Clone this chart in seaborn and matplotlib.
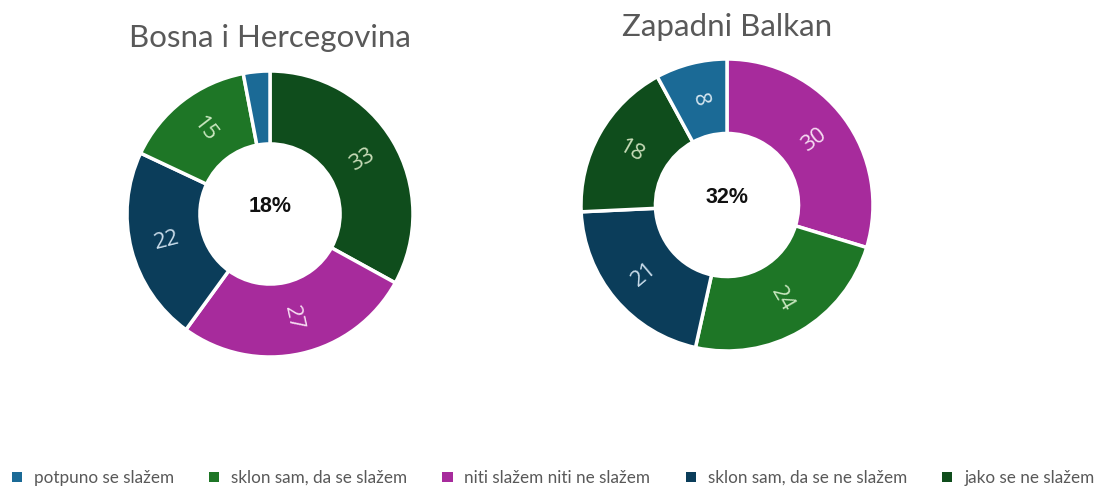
import numpy as np
import matplotlib.pyplot as plt
import seaborn as sns
from matplotlib.patches import Patch

# data
categories = ["potpuno se slažem", "sklon sam, da se slažem", "niti slažem niti ne slažem",
              "sklon sam, da se ne slažem", "jako se ne slažem"]
colors = ["#1b6a96", "#1e7626", "#a72b9c", "#0b3d5a", "#0f4d1c"]
label_colors = ["#d6e6f0", "#c9e6bf", "#f6dcf2", "#c9dcea", "#c8dcb8"]

bih_order = [4, 2, 3, 1, 0]          # clockwise from top
bih_values = [33, 27, 22, 15, 3]
bih_center = "18%"

zb_order = [2, 1, 3, 4, 0]
zb_values = [30, 24, 21, 18, 8]
zb_center = "32%"

titles = ["Bosna i Hercegovina", "Zapadni Balkan"]

sns.set_theme(style="white")
plt.rcParams['font.family'] = ['Lato', 'DejaVu Sans']

W, H = 1106, 488
fig = plt.figure(figsize=(W / 100, H / 100), dpi=100)


def donut(cx, cy, r, order, values, center, title, ty):
    ax = fig.add_axes([(cx - r) / W, (H - cy - r) / H, 2 * r / W, 2 * r / H])
    cols = [colors[i] for i in order]
    wedges, _ = ax.pie(values, colors=cols, startangle=90, counterclock=False,
                       radius=1, wedgeprops=dict(width=0.51, edgecolor="white", linewidth=2.5))
    for w, v, i in zip(wedges, values, order):
        if v < 5:
            continue
        ang = (w.theta1 + w.theta2) / 2
        rad = np.deg2rad(ang)
        rot = ang % 180
        if rot > 90:
            rot -= 180
        ax.text(0.745 * np.cos(rad), 0.745 * np.sin(rad), str(v), rotation=rot,
                rotation_mode="anchor", ha="center", va="center",
                fontsize=16, color=label_colors[i], family=['Open Sans', 'DejaVu Sans'])
    ax.text(0, 0.05, center, ha="center", va="center", fontsize=15.5, fontweight="bold",
            color="#111111", family=['Liberation Sans', 'DejaVu Sans'])
    ax.set_xlim(-1, 1)
    ax.set_ylim(-1, 1)
    ax.set_aspect("equal")
    ax.axis("off")
    fig.text(cx / W, 1 - ty / H, title, ha="center", va="center", fontsize=22.5, color="#595959")


donut(270, 214, 143, bih_order, bih_values, bih_center, titles[0], 38)
donut(727, 205, 146, zb_order, zb_values, zb_center, titles[1], 27)

handles = [Patch(facecolor=c, edgecolor="none") for c in colors]
fig.legend(handles, categories, loc="center", bbox_to_anchor=(0.5, 1 - 478 / H), ncol=5,
           frameon=False, fontsize=12.3, handlelength=0.6, handleheight=0.6,
           handletextpad=0.7, columnspacing=2.05, labelcolor="#595959")

fig.savefig("out.png", dpi=100, facecolor="white")
